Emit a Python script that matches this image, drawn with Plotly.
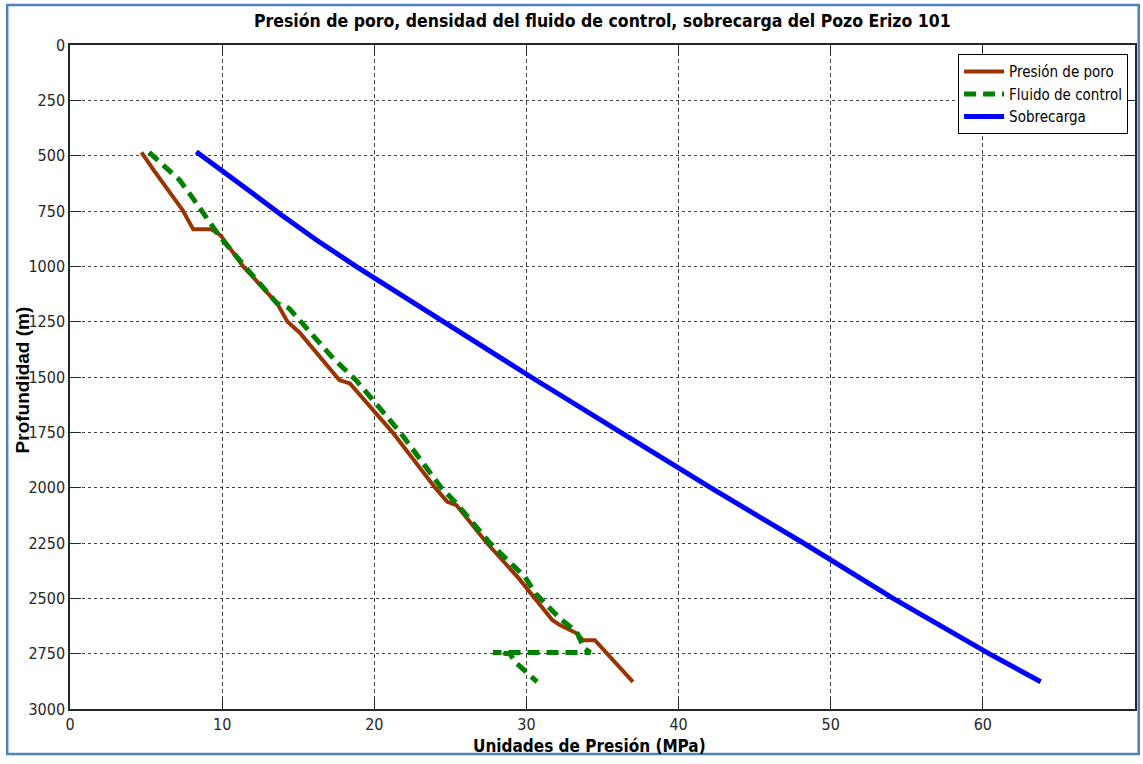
import plotly.graph_objects as go

# Presión de poro (MPa) vs profundidad (m)
poro_p = [4.7, 5.5, 7.4, 8.1, 9.3, 9.9, 11.4, 13.6, 14.3, 15.1, 17.7, 18.4, 21.2, 24.0,
          24.8, 25.4, 27.4, 29.5, 31.7, 32.2, 33.3, 33.7, 34.5, 37.0]
poro_z = [485, 565, 746, 833, 833, 860, 1002, 1166, 1250, 1300, 1514, 1529, 1750, 2000,
          2064, 2079, 2250, 2410, 2598, 2621, 2658, 2689, 2689, 2877]

# Densidad del fluido de control expresada en presión (MPa)
fluido_p = [5.2, 7.2, 8.0, 9.1, 9.85, 11.6, 13.6, 14.1, 14.4, 17.3, 18.8, 21.7, 24.4,
            25.4, 27.6, 29.9, 30.6, 32.2, 33.3, 33.8, 34.2, 27.8, 28.9, 29.3, 30.7]
fluido_z = [485, 610, 685, 798, 866, 1009, 1167, 1179, 1190, 1416, 1514, 1750, 2000,
            2071, 2250, 2403, 2478, 2591, 2651, 2726, 2745, 2745, 2750, 2790, 2877]

# Sobrecarga (MPa)
sobre_p = [8.3, 10.3, 11.4, 12.0, 13.9, 16.2, 18.8, 24.5, 30.3, 36.2, 42.1, 48.2, 54.1,
           60.4, 63.8]
sobre_z = [482, 580, 640, 670, 768, 881, 1000, 1250, 1500, 1750, 2000, 2250, 2500,
           2750, 2877]

x_ticks = list(range(0, 71, 10))
y_ticks = list(range(0, 3001, 250))

NARROW = "Liberation Sans Narrow, Arial Narrow, DejaVu Sans Condensed, sans-serif"
ARIAL = "Liberation Sans, Arial, sans-serif"

fig = go.Figure()
fig.add_trace(go.Scatter(x=poro_p, y=poro_z, mode="lines", name="Presión de poro",
                         line=dict(color="#993300", width=4)))
fig.add_trace(go.Scatter(x=fluido_p, y=fluido_z, mode="lines", name="Fluido de control",
                         line=dict(color="#008000", width=5, dash="12px,7px")))
fig.add_trace(go.Scatter(x=sobre_p, y=sobre_z, mode="lines", name="Sobrecarga",
                         line=dict(color="#0000FF", width=5)))

axis_common = dict(
    showline=True, linecolor="#262626", linewidth=1.5, mirror="ticks",
    ticks="inside", ticklen=11, tickwidth=1, tickcolor="#262626",
    showgrid=True, gridcolor="#404040", gridwidth=1, zeroline=False,
    tickfont=dict(family=NARROW, size=16, color="#262626"),
)

fig.update_xaxes(range=[0, 70], tickvals=x_ticks, griddash="4px,3px", **axis_common)
fig.update_yaxes(range=[3000, 0], tickvals=y_ticks, griddash="3px,3px", **axis_common)

fig.update_layout(
    width=1143, height=764,
    margin=dict(l=70, r=6, t=45, b=55),
    paper_bgcolor="white", plot_bgcolor="white",
    title=dict(text="<b>Presión de poro, densidad del fluido de control, sobrecarga del Pozo Erizo 101</b>",
               x=0.527, xanchor="center", y=0.973, yanchor="middle",
               font=dict(family=NARROW, size=17.5, color="#000000")),
    legend=dict(x=0.9935, y=0.986, xanchor="right", yanchor="top",
                bgcolor="white", bordercolor="#000000", borderwidth=1,
                font=dict(family=NARROW, size=15, color="#000000"),
                tracegroupgap=0, itemwidth=40),
    showlegend=True,
    annotations=[
        dict(text="<b>Profundidad (m)</b>", xref="paper", yref="paper",
             x=-0.045, y=0.495, xanchor="center", yanchor="middle",
             textangle=-90, showarrow=False,
             font=dict(family=ARIAL, size=19, color="#000000")),
        dict(text="<b>Unidades de Presión (MPa)</b>", xref="paper", yref="paper",
             x=0.488, y=-0.0557, xanchor="center", yanchor="middle",
             showarrow=False,
             font=dict(family=NARROW, size=17, color="#000000")),
    ],
    shapes=[dict(type="rect", xref="paper", yref="paper",
                 x0=-0.059, x1=1.0035, y0=-0.0678, y1=1.0602,
                 line=dict(color="#4F81BD", width=2.5), layer="below")],
)

fig.write_html("out.html")
